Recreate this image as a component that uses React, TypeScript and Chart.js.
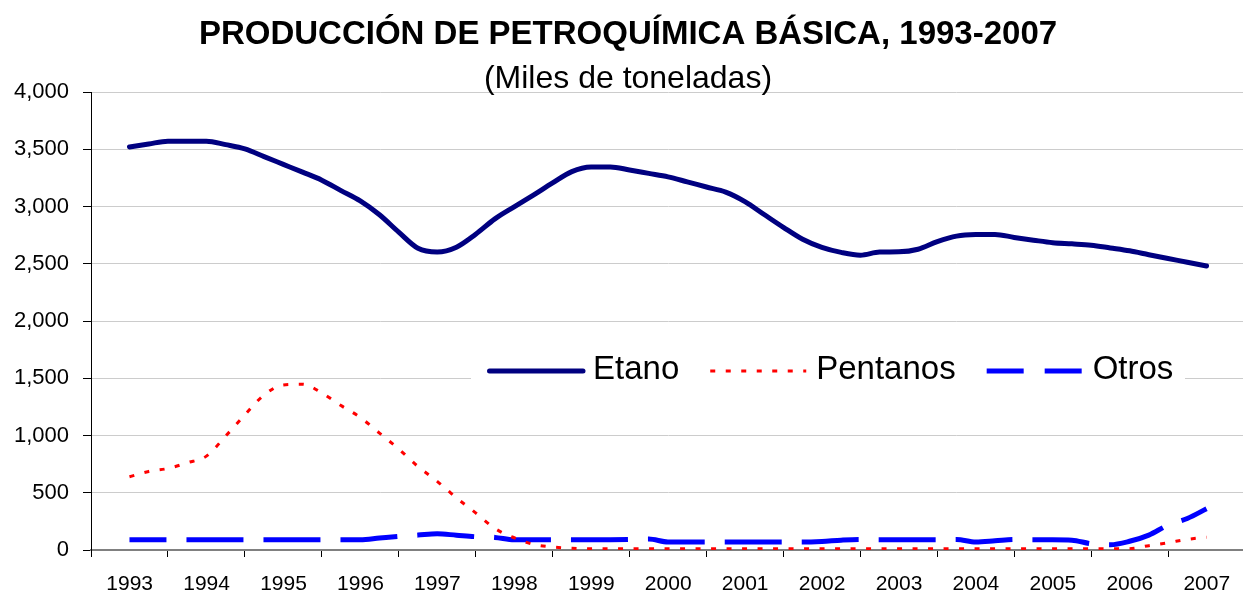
import React, { useEffect, useRef } from 'react';
import { Chart, registerables } from 'chart.js';

Chart.register(...registerables);

const FONT = '"Liberation Sans", Arial, Helvetica, sans-serif';

const TITLE = 'PRODUCCIÓN DE PETROQUÍMICA BÁSICA, 1993-2007';
const SUBTITLE = '(Miles de toneladas)';

// Year labels on the category axis
const years = ['1993', '1994', '1995', '1996', '1997', '1998', '1999', '2000', '2001', '2002', '2003', '2004', '2005', '2006', '2007'];

// Quarterly positions of the data points (in years)
const periods = [
  1993, 1993.25, 1993.5, 1993.75,
  1994, 1994.25, 1994.5, 1994.75,
  1995, 1995.25, 1995.5, 1995.75,
  1996, 1996.25, 1996.5, 1996.75,
  1997, 1997.25, 1997.5, 1997.75,
  1998, 1998.25, 1998.5, 1998.75,
  1999, 1999.25, 1999.5, 1999.75,
  2000, 2000.25, 2000.5, 2000.75,
  2001, 2001.25, 2001.5, 2001.75,
  2002, 2002.25, 2002.5, 2002.75,
  2003, 2003.25, 2003.5, 2003.75,
  2004, 2004.25, 2004.5, 2004.75,
  2005, 2005.25, 2005.5, 2005.75,
  2006, 2006.25, 2006.5, 2006.75,
  2007,
];

const etano = [
  3520, 3546, 3570, 3570,
  3570, 3540, 3503, 3436,
  3368, 3300, 3230, 3139,
  3049, 2928, 2776, 2635,
  2603, 2645, 2758, 2892,
  2997, 3100, 3206, 3305,
  3345, 3346, 3319, 3289,
  3259, 3215, 3170, 3126,
  3043, 2930, 2818, 2714,
  2643, 2599, 2575, 2602,
  2604, 2627, 2693, 2741,
  2755, 2756, 2730, 2706,
  2684, 2674, 2662, 2638,
  2613, 2579, 2546, 2513,
  2480,
];

const pentanos = [
  640, 686, 712, 762,
  820, 995, 1180, 1354,
  1442, 1448, 1372, 1261,
  1158, 1021, 882, 729,
  600, 456, 324, 188,
  107, 49, 26, 15,
  10, 10, 10, 10,
  10, 10, 10, 10,
  10, 10, 10, 10,
  10, 10, 10, 10,
  10, 10, 10, 10,
  10, 10, 10, 10,
  10, 10, 10, 10,
  12, 38, 64, 93,
  112,
];

const otros = [
  90, 90, 90, 90,
  90, 90, 90, 90,
  90, 90, 90, 90,
  90, 104, 118, 130,
  142, 129, 116, 110,
  90, 90, 90, 90,
  90, 90, 91, 96,
  70, 70, 70, 70,
  70, 70, 70, 70,
  75, 86, 92, 90,
  90, 90, 90, 92,
  70, 80, 92, 90,
  90, 86, 55, 46,
  76, 130, 218, 275,
  360,
];

const yTicks = [0, 500, 1000, 1500, 2000, 2500, 3000, 3500, 4000];

const seriesNames = ['Etano', 'Pentanos', 'Otros'];
const legendDashes = [[], [5, 10.5], [37, 21]];

const toPoints = (vals: number[]) => vals.map((v, i) => ({ x: periods[i], y: v }));

const titlePlugin = {
  id: 'titles',
  afterDraw(chart: any) {
    const ctx = chart.ctx;
    ctx.save();
    ctx.fillStyle = '#000';
    ctx.textAlign = 'center';
    ctx.textBaseline = 'alphabetic';
    ctx.font = `bold 33px ${FONT}`;
    ctx.fillText(TITLE, 628, 44);
    ctx.font = `32px ${FONT}`;
    ctx.fillText(SUBTITLE, 628, 88);
    ctx.restore();
  },
};

const legendPlugin = {
  id: 'insideLegend',
  afterDraw(chart: any) {
    const ctx = chart.ctx;
    ctx.save();
    ctx.fillStyle = '#fff';
    ctx.fillRect(471, 350, 714, 44);
    ctx.font = `33px ${FONT}`;
    ctx.textBaseline = 'alphabetic';
    ctx.textAlign = 'left';
    let x = 487;
    chart.data.datasets.forEach((ds: any, i: number) => {
      ctx.beginPath();
      ctx.setLineDash(legendDashes[i]);
      ctx.lineDashOffset = 0;
      ctx.lineWidth = ds.borderWidth;
      ctx.strokeStyle = ds.borderColor;
      ctx.lineCap = i === 0 ? 'round' : 'butt';
      ctx.moveTo(i === 0 ? x + 2.5 : x, 371);
      ctx.lineTo(x + 96, 371);
      ctx.stroke();
      ctx.setLineDash([]);
      ctx.fillStyle = '#000';
      ctx.fillText(ds.label, x + 106, 379);
      x += 106 + ctx.measureText(ds.label).width + 31;
    });
    ctx.restore();
  },
};

export default function App() {
  const ref = useRef<HTMLCanvasElement>(null);

  useEffect(() => {
    const edges = years.map((y) => Number(y) - 0.5).concat([Number(years[years.length - 1]) + 0.5]);
    const chart = new Chart(ref.current as HTMLCanvasElement, {
      type: 'line',
      data: {
        datasets: [
          {
            label: seriesNames[0],
            data: toPoints(etano),
            borderColor: '#000080',
            borderWidth: 5,
            borderCapStyle: 'round',
            borderJoinStyle: 'round',
            pointRadius: 0,
            cubicInterpolationMode: 'monotone',
            fill: false,
          },
          {
            label: seriesNames[1],
            data: toPoints(pentanos),
            borderColor: '#FF0000',
            borderWidth: 3,
            borderDash: [5, 10.5],
            pointRadius: 0,
            cubicInterpolationMode: 'monotone',
            fill: false,
          },
          {
            label: seriesNames[2],
            data: toPoints(otros),
            borderColor: '#0000FF',
            borderWidth: 5,
            borderDash: [57, 20],
            borderDashOffset: 20,
            pointRadius: 0,
            cubicInterpolationMode: 'monotone',
            fill: false,
          },
        ],
      },
      options: {
        responsive: false,
        devicePixelRatio: 1,
        animation: false,
        events: [],
        layout: { padding: { top: 92, right: 9, bottom: 0, left: 0 } },
        plugins: {
          legend: { display: false },
          title: { display: false },
          tooltip: { enabled: false },
        },
        scales: {
          x: {
            type: 'linear',
            min: edges[0],
            max: edges[edges.length - 1],
            afterBuildTicks: (s: any) => {
              s.ticks = edges.map((v) => ({ value: v }));
            },
            afterFit: (s: any) => {
              s.height = 45;
            },
            grid: {
              display: true,
              drawOnChartArea: false,
              drawTicks: true,
              tickLength: 7,
              tickColor: '#000',
              tickWidth: 1,
            },
            border: { display: true, color: '#808080', width: 2 },
            ticks: {
              autoSkip: false,
              maxRotation: 0,
              minRotation: 0,
              labelOffset: 38.67,
              padding: 15,
              color: '#000',
              font: { family: FONT, size: 21 },
              callback: (_v: any, i: number) => (i < years.length ? years[i] : ''),
            },
          },
          y: {
            min: yTicks[0],
            max: yTicks[yTicks.length - 1],
            afterBuildTicks: (s: any) => {
              s.ticks = yTicks.map((v) => ({ value: v }));
            },
            afterFit: (s: any) => {
              s.width = 91;
            },
            grid: {
              color: '#cccccc',
              lineWidth: 1,
              drawTicks: true,
              tickLength: 8,
              tickColor: '#000',
            },
            border: { display: true, color: '#000', width: 1 },
            ticks: {
              padding: 14,
              color: '#000',
              font: { family: FONT, size: 22 },
              callback: (v: any) => Number(v).toLocaleString('en-US'),
            },
          },
        },
      },
      plugins: [titlePlugin, legendPlugin],
    } as any);
    return () => chart.destroy();
  }, []);

  return (
    <div
      style={{
        position: 'fixed',
        left: 0,
        top: 0,
        width: 1243,
        height: 595,
        overflow: 'hidden',
        background: '#fff',
      }}
    >
      <canvas ref={ref} width={1260} height={595} style={{ display: 'block', width: 1260, height: 595 }} />
    </div>
  );
}
